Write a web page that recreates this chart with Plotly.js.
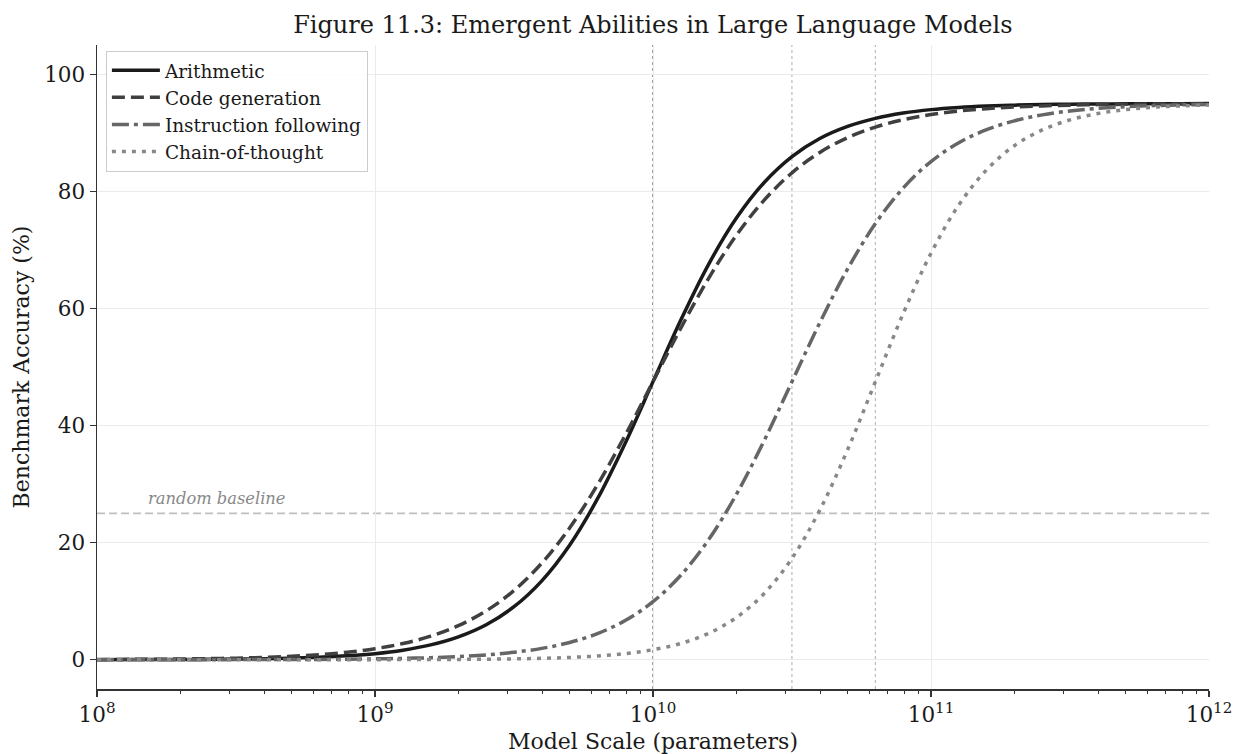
<!DOCTYPE html>
<html>
<head>
<meta charset="utf-8">
<script src="https://cdn.plot.ly/plotly-3.0.1.min.js"></script>
<style>
  html, body { margin: 0; padding: 0; background: #ffffff; }
  #chart { width: 1235px; height: 754px; }
</style>
</head>
<body>
<div id="chart"></div>
<script>
// log10 of model scale (parameters)
const logScale = [8.0,8.1,8.2,8.3,8.4,8.5,8.6,8.7,8.8,8.9,
                  9.0,9.1,9.2,9.3,9.4,9.5,9.6,9.7,9.8,9.9,
                  10.0,10.1,10.2,10.3,10.4,10.5,10.6,10.7,10.8,10.9,
                  11.0,11.1,11.2,11.3,11.4,11.5,11.6,11.7,11.8,11.9,12.0];

const arithmetic = [0.01,0.02,0.03,0.05,0.07,0.11,0.17,0.27,0.43,0.67,
                    1.04,1.63,2.53,3.91,5.98,9.06,13.48,19.56,27.46,36.99,
                    47.5,58.01,67.54,75.44,81.52,85.94,89.02,91.09,92.47,93.37,
                    93.96,94.33,94.57,94.73,94.83,94.89,94.93,94.95,94.97,94.98,94.99];

const codeGeneration = [0.04,0.06,0.08,0.13,0.19,0.27,0.40,0.59,0.87,1.28,
                        1.89,2.76,4.02,5.82,8.35,11.83,16.50,22.50,29.86,38.35,
                        47.5,56.65,65.14,72.50,78.51,83.17,86.65,89.18,90.98,92.24,
                        93.12,93.72,94.13,94.41,94.60,94.73,94.82,94.87,94.92,94.94,94.96];

const instructionFollowing = [0.00,0.00,0.00,0.01,0.01,0.02,0.03,0.04,0.06,0.10,
                              0.15,0.23,0.35,0.54,0.83,1.27,1.94,2.95,4.46,6.69,
                              9.91,14.43,20.50,28.25,37.44,47.5,57.56,66.75,74.50,80.57,
                              85.09,88.31,90.54,92.05,93.06,93.73,94.17,94.46,94.65,94.77,94.85];

const chainOfThought = [0.00,0.00,0.00,0.00,0.00,0.00,0.00,0.00,0.00,0.01,
                        0.01,0.02,0.03,0.05,0.09,0.14,0.24,0.39,0.64,1.04,
                        1.71,2.78,4.51,7.21,11.32,17.33,25.55,35.87,47.5,59.13,
                        69.44,77.67,83.68,87.80,90.49,92.21,93.29,93.96,94.36,94.61,94.76];

const seriesNames = ["Arithmetic","Code generation","Instruction following","Chain-of-thought"];

// Emergence points (vertical markers) and random baseline
const emergenceScales = [1e10, 3.16e10, 6.31e10];
const randomBaseline = 25;

const xTickVals = [1e8, 1e9, 1e10, 1e11, 1e12];
const xTickText = ["10<sup>8</sup>","10<sup>9</sup>","10<sup>10</sup>","10<sup>11</sup>","10<sup>12</sup>"];
const yTickVals = [0, 20, 40, 60, 80, 100];

const xMinorVals = [];
[1e8,1e9,1e10,1e11].forEach(d => { for (let m = 2; m <= 9; m++) xMinorVals.push(m*d); });

const x = logScale.map(e => Math.pow(10, e));
const font = "DejaVu Serif, serif";

const styles = [
  {color: "#1a1a1a", dash: "solid"},
  {color: "#404040", dash: "13px,6px"},
  {color: "#666666", dash: "17px,5px,4px,5px"},
  {color: "#888888", dash: "4px,6px"}
];
const ys = [arithmetic, codeGeneration, instructionFollowing, chainOfThought];

const traces = ys.map((y, i) => ({
  x: x, y: y, type: "scatter", mode: "lines", name: seriesNames[i],
  line: {color: styles[i].color, dash: styles[i].dash, width: 3.5, shape: "spline", smoothing: 1}
}));

const shapes = [
  {type: "line", xref: "x", yref: "paper", x0: emergenceScales[0], x1: emergenceScales[0], y0: 0, y1: 1,
   line: {color: "#666666", width: 1.2, dash: "dot"}, layer: "below"},
  {type: "line", xref: "x", yref: "paper", x0: emergenceScales[1], x1: emergenceScales[1], y0: 0, y1: 1,
   line: {color: "#bbbbbb", width: 1.2, dash: "dot"}, layer: "below"},
  {type: "line", xref: "x", yref: "paper", x0: emergenceScales[2], x1: emergenceScales[2], y0: 0, y1: 1,
   line: {color: "#bbbbbb", width: 1.2, dash: "dot"}, layer: "below"},
  {type: "line", xref: "paper", yref: "y", x0: 0, x1: 1, y0: randomBaseline, y1: randomBaseline,
   line: {color: "#c0c0c0", width: 1.6, dash: "8px,4px"}, layer: "below"}
];

const layout = {
  width: 1235, height: 754,
  margin: {l: 97, r: 26, t: 45, b: 65},
  paper_bgcolor: "#ffffff", plot_bgcolor: "#ffffff",
  font: {family: font, color: "#1a1a1a", size: 18},
  title: {text: "Figure 11.3: Emergent Abilities in Large Language Models",
          font: {family: font, size: 24, color: "#1a1a1a"},
          x: 0.5286, xanchor: "center", y: 0.967, yanchor: "middle"},
  xaxis: {
    type: "log", range: [8, 12],
    tickmode: "array", tickvals: xTickVals, ticktext: xTickText,
    ticks: "outside", ticklen: 6, tickwidth: 1.3, tickcolor: "#333333",
    tickfont: {family: font, size: 21.5, color: "#1a1a1a"},
    showline: true, linecolor: "#333333", linewidth: 1.5, mirror: false,
    showgrid: true, gridcolor: "#ebebeb", gridwidth: 1, zeroline: false,
    minor: {tickmode: "array", tickvals: xMinorVals, ticks: "outside", ticklen: 3.5, tickwidth: 1, tickcolor: "#333333", showgrid: false},
    title: {text: "Model Scale (parameters)", font: {family: font, size: 22, color: "#1a1a1a"}, standoff: 8}
  },
  yaxis: {
    range: [-5, 105],
    tickmode: "array", tickvals: yTickVals,
    ticks: "outside", ticklen: 6, tickwidth: 1.3, tickcolor: "#333333",
    tickfont: {family: font, size: 21.5, color: "#1a1a1a"},
    showline: true, linecolor: "#333333", linewidth: 1.5, mirror: false,
    showgrid: true, gridcolor: "#ebebeb", gridwidth: 1, zeroline: false,
    title: {text: "Benchmark Accuracy (%)", font: {family: font, size: 22, color: "#1a1a1a"}, standoff: 8}
  },
  legend: {
    x: 0.008, y: 0.991, xanchor: "left", yanchor: "top",
    bgcolor: "rgba(255,255,255,0.85)", bordercolor: "#cccccc", borderwidth: 1,
    itemwidth: 48,
    font: {family: font, size: 18.5, color: "#1a1a1a"}
  },
  shapes: shapes,
  annotations: [{
    x: Math.log10(1.5e8), y: 27.6, xref: "x", yref: "y",
    text: "random baseline", showarrow: false, xanchor: "left", yanchor: "middle",
    font: {family: font, size: 16.3, color: "#888888", style: "italic"}
  }],
  showlegend: true
};

Plotly.newPlot("chart", traces, layout, {displayModeBar: false, staticPlot: true});
</script>
</body>
</html>
